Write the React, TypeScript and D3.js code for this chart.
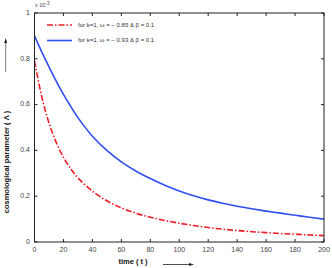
import * as React from 'react';
import * as d3 from 'd3';

// time samples
const times = [0, 5, 10, 15, 20, 25, 30, 40, 50, 60, 70, 80, 90, 100, 110, 120, 130, 140, 150, 160, 170, 180, 190, 200];
// cosmological parameter (x 10^-3), omega = -0.85
const lambdaA = [0.79, 0.635, 0.52, 0.435, 0.37, 0.32, 0.28, 0.222, 0.18, 0.149, 0.126, 0.108, 0.094, 0.082, 0.072, 0.063, 0.056, 0.05, 0.045, 0.041, 0.037, 0.034, 0.031, 0.028];
// omega = -0.93
const lambdaB = [0.9, 0.83, 0.765, 0.703, 0.645, 0.592, 0.543, 0.462, 0.4, 0.35, 0.31, 0.277, 0.248, 0.223, 0.202, 0.184, 0.169, 0.156, 0.145, 0.135, 0.126, 0.117, 0.108, 0.1];
const xTicks = [0, 20, 40, 60, 80, 100, 120, 140, 160, 180, 200];
const yTicks = [0, 0.2, 0.4, 0.6, 0.8, 1];
const legendLabels = ['for k=1, \u03c9 = \u2212 0.85 & \u03b2 = 0.1', 'for k=1, \u03c9 = \u2212 0.93 & \u03b2 = 0.1'];

const W = 332, H = 268;
const left = 34.5, right = 324, top = 13, bottom = 242;
const font = 'Liberation Sans, Arial, sans-serif';

export default function App() {
  const x = d3.scaleLinear().domain([0, 200]).range([left, right]);
  const y = d3.scaleLinear().domain([0, 1]).range([bottom, top]);
  const line = (vals: number[]) =>
    d3.line<number>().x((_d, i) => x(times[i])).y(d => y(d)).curve(d3.curveCatmullRom)(vals) || '';

  const series = [
    { vals: lambdaA, color: '#ee1c24', dash: '6,2,1.5,2' },
    { vals: lambdaB, color: '#2f4ff0', dash: '' },
  ];

  return (
    <svg width={W} height={H} style={{ position: 'absolute', left: 0, top: 0 }} fontFamily={font}>
      <rect width={W} height={H} fill="#fff" />
      {series.map((s, i) => (
        <path key={i} d={line(s.vals)} fill="none" stroke={s.color} strokeWidth={1.6} strokeDasharray={s.dash || undefined} />
      ))}
      <rect x={left} y={top} width={right - left} height={bottom - top} fill="none" stroke="#222" strokeWidth={1} />
      {xTicks.map(t => (
        <g key={'x' + t}>
          <line x1={x(t)} x2={x(t)} y1={bottom} y2={bottom - 3} stroke="#222" />
          <line x1={x(t)} x2={x(t)} y1={top} y2={top + 3} stroke="#222" />
          <text x={x(t)} y={250} fontSize={7} fill="#444" textAnchor="middle" dominantBaseline="middle">{t}</text>
        </g>
      ))}
      {yTicks.map(t => (
        <g key={'y' + t}>
          <line x1={left} x2={left + 3} y1={y(t)} y2={y(t)} stroke="#222" />
          <line x1={right} x2={right - 3} y1={y(t)} y2={y(t)} stroke="#222" />
          <text x={30} y={y(t)} fontSize={7} fill="#444" textAnchor="end" dominantBaseline="middle">{t}</text>
        </g>
      ))}
      <text x={35} y={7} fontSize={5.5} fill="#444">x 10<tspan dy={-2} fontSize={4.5}>-3</tspan></text>
      {series.map((s, i) => (
        <g key={'l' + i}>
          <line x1={47} x2={72} y1={25 + i * 15.5} y2={25 + i * 15.5} stroke={s.color} strokeWidth={1.6} strokeDasharray={s.dash || undefined} />
          <text x={78} y={25 + i * 15.5} fontSize={6} fill="#333" dominantBaseline="middle">{legendLabels[i]}</text>
        </g>
      ))}
      <text transform="translate(9,162) rotate(-90)" fontSize={7.5} fontWeight="bold" fill="#111" textAnchor="middle">cosmological parameter ( {'\u039b'} )</text>
      <line x1={5.7} x2={5.7} y1={72} y2={42} stroke="#555" strokeWidth={0.8} />
      <path d="M5.7,38 L4.2,43 L7.2,43 Z" fill="#222" />
      <text x={133} y={264} fontSize={7.5} fontWeight="bold" fill="#111" textAnchor="middle">time ( t )</text>
      <line x1={163} x2={190} y1={264.5} y2={264.5} stroke="#222" strokeWidth={0.8} />
      <path d="M194,264.5 L189,263 L189,266 Z" fill="#222" />
    </svg>
  );
}
